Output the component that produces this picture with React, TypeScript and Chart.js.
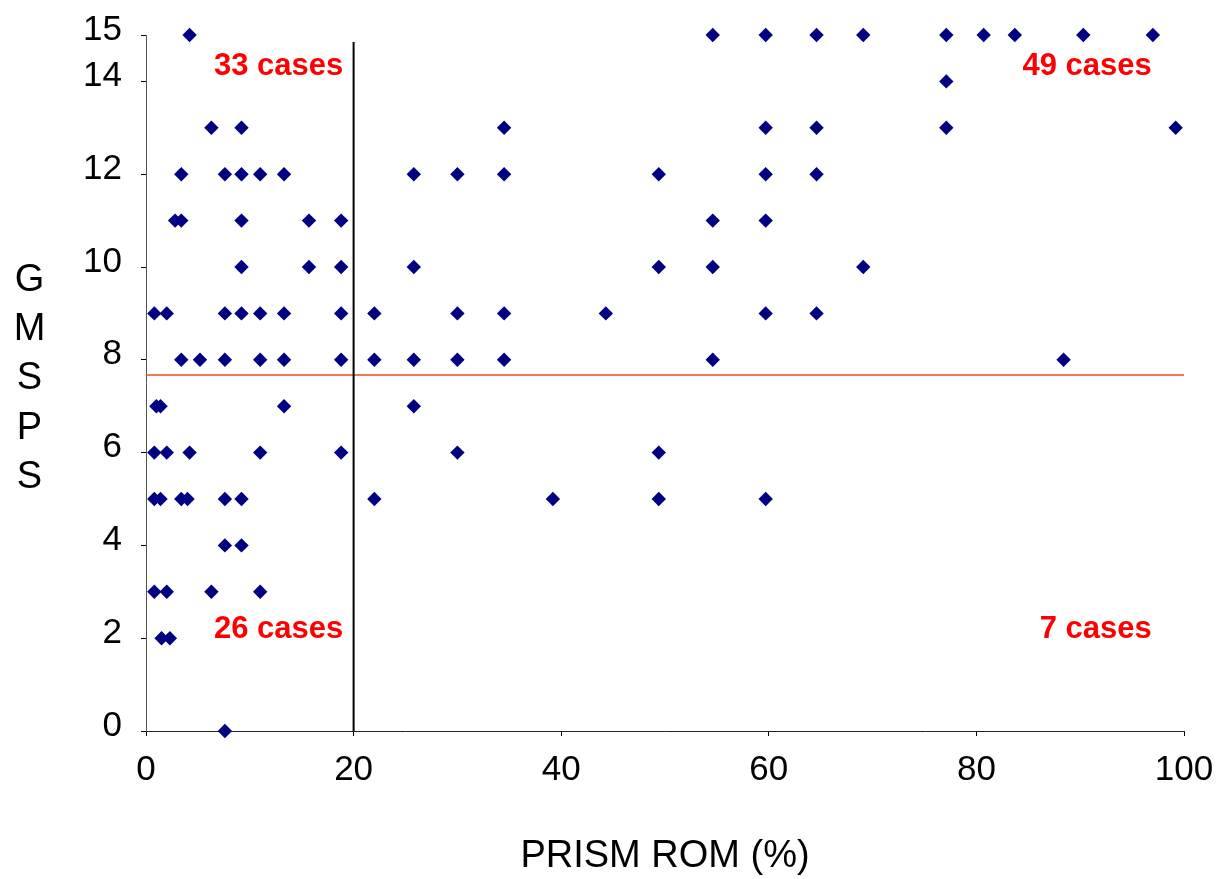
import React, { useEffect, useRef } from 'react';
import { Chart, registerables } from 'chart.js';

Chart.register(...registerables);

// PRISM range of motion (%) for each case, paired by index with the GMSPS score below
const romPercent = [
  4.2, 54.6, 59.7, 64.6, 69.1, 77.1, 80.7, 83.7, 90.3, 97.0,
  77.1,
  6.3, 9.2, 34.5, 59.7, 64.6, 77.1, 99.2,
  3.4, 7.6, 9.2, 11.0, 13.3, 25.8, 30.0, 34.5, 49.4, 59.7, 64.6,
  2.8, 3.4, 9.2, 15.7, 18.8, 54.6, 59.7,
  9.2, 15.7, 18.8, 25.8, 49.4, 54.6, 69.1,
  0.8, 2.0, 7.6, 9.2, 11.0, 13.3, 18.8, 22.0, 30.0, 34.5, 44.3, 59.7, 64.6,
  3.4, 5.2, 7.6, 11.0, 13.3, 18.8, 22.0, 25.8, 30.0, 34.5, 54.6, 88.4,
  1.0, 1.4, 13.3, 25.8,
  0.8, 2.0, 4.2, 11.0, 18.8, 30.0, 49.4,
  0.8, 1.4, 3.4, 4.0, 7.6, 9.2, 22.0, 39.2, 49.4, 59.7,
  7.6, 9.2,
  0.8, 2.0, 6.3, 11.0,
  1.5, 2.3,
  7.6,
];

const gmspsScore = [
  15, 15, 15, 15, 15, 15, 15, 15, 15, 15,
  14,
  13, 13, 13, 13, 13, 13, 13,
  12, 12, 12, 12, 12, 12, 12, 12, 12, 12, 12,
  11, 11, 11, 11, 11, 11, 11,
  10, 10, 10, 10, 10, 10, 10,
  9, 9, 9, 9, 9, 9, 9, 9, 9, 9, 9, 9, 9,
  8, 8, 8, 8, 8, 8, 8, 8, 8, 8, 8, 8,
  7, 7, 7, 7,
  6, 6, 6, 6, 6, 6, 6,
  5, 5, 5, 5, 5, 5, 5, 5, 5, 5,
  4, 4,
  3, 3, 3, 3,
  2, 2,
  0,
];

const yTickValues = [0, 2, 4, 6, 8, 10, 12, 14, 15];
const xTickStep = 20;

// Quadrant split: ROM threshold (vertical) and GMSPS threshold (horizontal)
const romCutoff = 20;
const romCutoffTop = 14.85;
const gmspsCutoff = 7.67;

const caseLabels = ['33 cases', '49 cases', '26 cases', '7 cases'];
const caseLabelX = [19.0, 96.9, 19.0, 96.9];
const caseLabelY = [14.14, 14.14, 2.0, 2.0];

const xAxisTitle = 'PRISM ROM (%)';
const yAxisTitle = 'GMSPS';

const FONT = '"Liberation Sans", Arial, Helvetica, sans-serif';

const caseLabelPlugin = {
  id: 'caseLabels',
  afterDatasetsDraw(chart: any) {
    const { ctx, scales } = chart;
    ctx.save();
    ctx.fillStyle = '#ff0000';
    ctx.font = `bold 31px ${FONT}`;
    ctx.textAlign = 'right';
    ctx.textBaseline = 'alphabetic';
    caseLabels.forEach((label, i) => {
      ctx.fillText(
        label,
        scales.x.getPixelForValue(caseLabelX[i]),
        scales.y.getPixelForValue(caseLabelY[i])
      );
    });
    ctx.restore();
  },
};

// Vertical axis title drawn as stacked upright letters
const stackedTitlePlugin = {
  id: 'stackedTitle',
  afterDraw(chart: any) {
    const { ctx, chartArea } = chart;
    const letters = yAxisTitle.split('');
    const step = 49.4;
    const mid = (chartArea.top + chartArea.bottom) / 2 - 4;
    const start = mid - ((letters.length - 1) * step) / 2;
    ctx.save();
    ctx.fillStyle = '#000';
    ctx.font = `38px ${FONT}`;
    ctx.textAlign = 'center';
    ctx.textBaseline = 'middle';
    letters.forEach((ch, i) => ctx.fillText(ch, 29.5, start + i * step));
    ctx.restore();
  },
};

export default function App() {
  const canvasRef = useRef<HTMLCanvasElement | null>(null);

  useEffect(() => {
    if (!canvasRef.current) return;
    const points = romPercent.map((x, i) => ({ x, y: gmspsScore[i] }));

    const chart = new Chart(canvasRef.current, {
      type: 'scatter',
      data: {
        datasets: [
          {
            type: 'line',
            data: [
              { x: 0, y: gmspsCutoff },
              { x: 100, y: gmspsCutoff },
            ],
            borderColor: '#f04a22',
            borderWidth: 1.5,
            pointRadius: 0,
            showLine: true,
            order: 3,
          } as any,
          {
            type: 'line',
            data: [
              { x: romCutoff, y: 0 },
              { x: romCutoff, y: romCutoffTop },
            ],
            borderColor: '#000000',
            borderWidth: 2,
            pointRadius: 0,
            showLine: true,
            order: 2,
          } as any,
          {
            data: points,
            pointStyle: 'rectRot',
            pointRadius: 7.2,
            pointBackgroundColor: '#000080',
            pointBorderWidth: 0,
            borderColor: '#000080',
            clip: false,
            order: 1,
          } as any,
        ],
      },
      options: {
        animation: false,
        responsive: true,
        maintainAspectRatio: false,
        layout: { padding: { left: 0, top: 35, right: 35, bottom: 0 } },
        plugins: {
          legend: { display: false },
          tooltip: { enabled: false },
        },
        scales: {
          x: {
            type: 'linear',
            min: 0,
            max: 100,
            ticks: {
              stepSize: xTickStep,
              color: '#000',
              font: { family: FONT, size: 35 },
              padding: 13,
            },
            grid: {
              drawOnChartArea: false,
              drawTicks: true,
              tickLength: 5,
              color: '#000',
            },
            border: { display: true, color: '#222', width: 1 },
            title: {
              display: true,
              text: xAxisTitle,
              color: '#000',
              font: { family: FONT, size: 38 },
              padding: { top: 0, bottom: 0 },
            },
            afterFit(scale: any) {
              scale.height = 148;
              scale.paddingLeft = 0;
              scale.paddingRight = 0;
            },
          },
          y: {
            type: 'linear',
            min: 0,
            max: 15,
            afterBuildTicks(scale: any) {
              scale.ticks = yTickValues.map((v) => ({ value: v }));
            },
            ticks: {
              color: '#000',
              font: { family: FONT, size: 35 },
              padding: 19,
              labelOffset: -5,
            },
            grid: {
              drawOnChartArea: false,
              drawTicks: true,
              tickLength: 5,
              color: '#000',
            },
            border: { display: true, color: '#555', width: 1 },
            afterFit(scale: any) {
              scale.width = 146;
              scale.paddingTop = 0;
              scale.paddingBottom = 0;
            },
          },
        },
      },
      plugins: [caseLabelPlugin, stackedTitlePlugin],
    });

    return () => chart.destroy();
  }, []);

  return (
    <div style={{ position: 'fixed', left: 0, top: 0, width: 1219, height: 879, background: '#fff' }}>
      <canvas ref={canvasRef} />
    </div>
  );
}
